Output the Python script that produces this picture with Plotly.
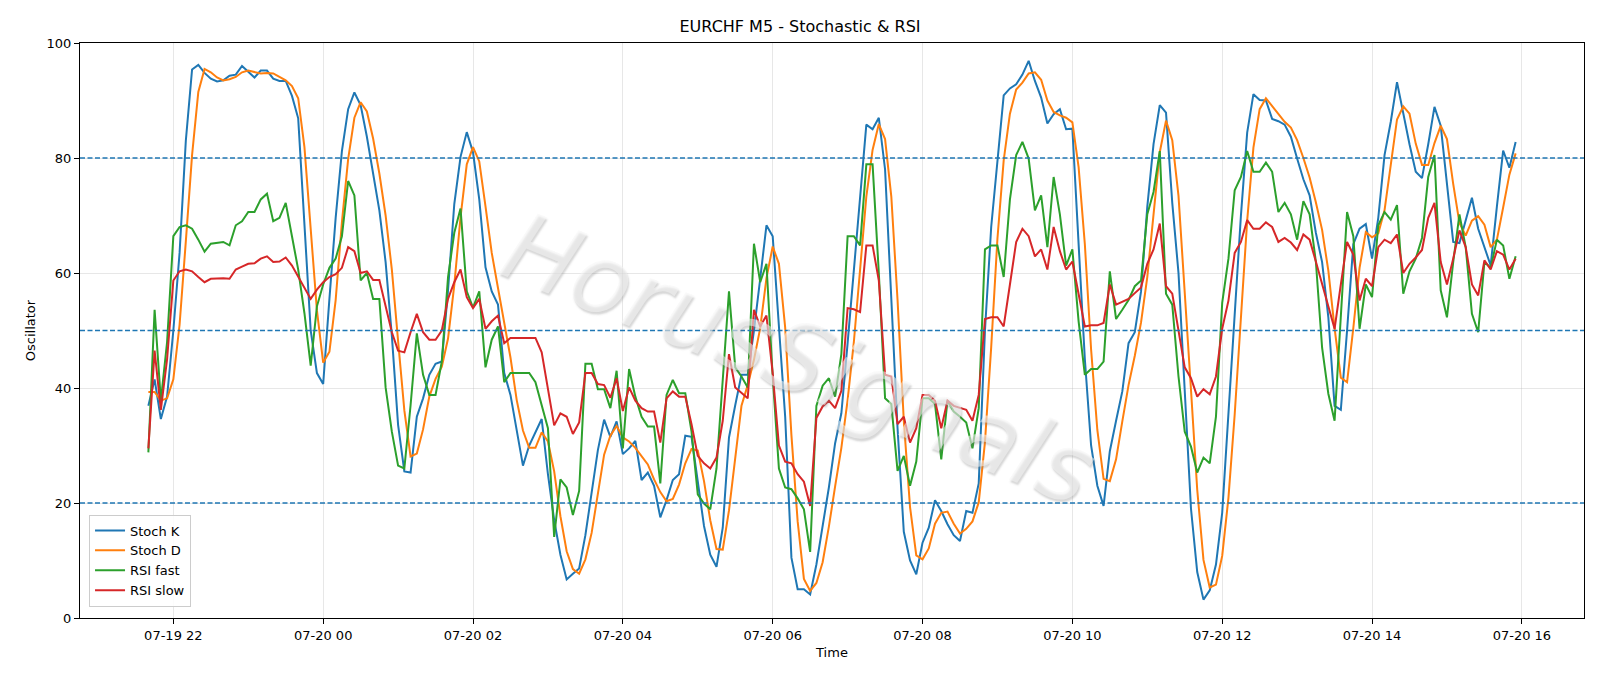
import plotly.graph_objects as go
import pandas as pd

start_time = "2024-07-19 21:40"
bar_freq = "5min"

stoch_k = [
    36.9, 41.5, 34.6, 38.5, 50, 63.5, 83, 95.4, 96.2, 94.8, 93.8, 93.3, 93.5, 94.3, 94.5, 96, 95, 94, 95.2, 95.2,
    93.8, 93.4, 93.4, 90.8, 86.9, 68, 50, 42.6, 40.7, 55.5, 69.6, 81.2, 88.5, 91.4, 89.2, 83.7, 77.3, 70.9, 61.9, 49.1, 33.6,
    25.5, 25.3, 35, 38.2, 42.3, 44.2, 44.6, 57, 72, 80.2, 84.5, 81, 72.8, 61, 56.8, 54.5, 42.6, 38.8, 32.4, 26.5, 30.0,
    32.4, 34.6, 25, 17, 11, 6.7, 7.7, 8.6, 14.4, 21.5, 29.2, 34.5, 31.5, 34.2, 28.5, 29.5, 30.8, 24, 25.3, 23,
    17.5, 20.5, 24, 25, 31.7, 31.5, 24, 16, 11, 8.9, 15.7, 31.4, 37, 42.3, 42.3, 50, 59, 68.3, 66.4, 50, 35, 10.5,
    5, 5, 4.1, 9.3, 15.7, 22.7, 30.4, 35.6, 47.8, 60.6, 73.5, 85.8, 85, 87, 78, 55, 33, 15, 10, 7.6,
    13.1, 15.7, 20.5, 18.6, 16.3, 14.4, 13.4, 18.6, 18.3, 23.4, 50, 68, 80, 90.9, 92.1, 92.8, 94.5, 96.9, 93.4, 90.5, 86.0,
    87.6, 88.5, 85.0, 85.1, 65, 45, 30, 23, 19.5, 29, 34.3, 39.4, 47.8, 49.7, 56.8, 71.5, 82.4, 89.2, 87.9, 72.2, 60,
    40, 19, 8, 3.2, 4.8, 9.3, 18.3, 35, 53, 70, 84.4, 91.1, 90.1, 90, 86.8, 86.4, 85.8, 83.7, 79.9, 76.3, 73.5,
    67, 61.9, 52.3, 36.9, 36.2, 50, 65, 67.7, 68.5, 62.5, 69.6, 80.5, 86.3, 93.2, 87.6, 82.4, 77.6, 76.5, 82.4, 88.9, 85.6,
    75.4, 65.4, 65.2, 69, 73.1, 67.7, 64.5, 61.3, 71.6, 81.3, 78.3, 82.8,
]

stoch_d = [
    39.3, 39.3, 37.8, 38.2, 41.5, 51, 65.5, 80.5, 91.5, 95.5, 94.9, 94, 93.5, 93.7, 94.1, 94.9, 95.2, 95, 94.7, 94.8,
    94.7, 94.1, 93.5, 92.5, 90.4, 81.9, 68.3, 53.5, 44.4, 46.3, 55.3, 68.8, 79.8, 87, 89.7, 88.1, 83.4, 77.3, 70, 60.6, 48.2,
    36.1, 28.1, 28.6, 32.8, 38.5, 41.6, 43.7, 48.6, 57.9, 69.7, 78.9, 81.9, 79.4, 71.6, 63.5, 57.4, 51.3, 45.3, 37.9, 32.6, 29.6,
    29.6, 32.3, 30.7, 25.5, 17.7, 11.6, 8.5, 7.7, 10.2, 14.8, 21.7, 28.4, 31.7, 33.4, 31.4, 30.7, 29.6, 28.1, 26.7, 24.1,
    21.9, 20.3, 20.7, 23.2, 26.9, 29.4, 29.1, 23.8, 17, 12, 11.9, 18.7, 28, 36.9, 40.5, 44.9, 50.4, 59.1, 64.6, 61.6, 50.5, 31.8,
    16.8, 6.8, 4.7, 6.1, 9.7, 15.9, 22.9, 29.6, 37.9, 48, 60.6, 73.3, 81.4, 85.9, 83.3, 73.3, 55.3, 34.3, 19.3, 10.9,
    10.2, 12.1, 16.4, 18.3, 18.5, 16.4, 14.7, 15.5, 16.8, 20.1, 30.6, 47.1, 66, 79.6, 87.7, 91.9, 93.1, 94.7, 94.9, 93.6, 90,
    88, 87.4, 87, 86.2, 78.4, 65, 46.7, 32.7, 24.2, 23.8, 27.6, 34.2, 40.5, 45.6, 51.4, 59.3, 70.2, 81, 86.5, 83.1, 73.4,
    57.4, 39.7, 22.3, 10.1, 5.3, 5.8, 10.8, 20.9, 35.4, 52.7, 69.1, 81.8, 88.5, 90.4, 89, 87.7, 86.3, 85.3, 83.1, 80, 76.6,
    72.3, 67.5, 60.4, 50.4, 41.8, 41, 50.4, 60.9, 67.1, 66.2, 66.9, 70.9, 78.8, 86.7, 89, 87.7, 82.5, 78.8, 78.8, 82.6, 85.6,
    83.3, 75.5, 68.7, 66.5, 69.1, 69.9, 68.4, 64.5, 65.8, 71.4, 77.1, 80.8,
]

rsi_fast = [
    28.8, 53.6, 37.8, 48, 66.4, 68.0, 68.3, 67.7, 65.8, 63.7, 65.1, 65.2, 65.4, 64.8, 68.3, 69.0, 70.6, 70.6, 72.8, 73.8,
    69.0, 69.6, 72.2, 66.4, 60.6, 53, 43.9, 54.2, 58.0, 60.9, 62.5, 66.4, 76.0, 73.5, 58.7, 60.0, 55.5, 55.5, 40.1, 32.4, 26.5,
    26, 37, 49.5, 42.3, 38.8, 38.8, 44.6, 59.3, 67, 71.2, 56.8, 54.0, 56.8, 43.6, 48.4, 50.7, 41, 42.6, 42.6, 42.6, 42.6,
    41, 37, 33, 14.1, 24.1, 22.7, 17.9, 22.1, 44.2, 44.2, 39.8, 39.8, 36.5, 43, 29.5, 43.3, 38.5, 35, 33.3, 33.3,
    23.4, 38.8, 41.4, 39.1, 39.1, 32.4, 21.5, 19.9, 18.9, 26, 40.7, 56.8, 43.6, 42, 40.1, 65.1, 58.4, 61.6, 42, 26, 22.7, 22.4,
    20.8, 18.9, 11.5, 36.9, 40.4, 41.7, 38.5, 45.9, 66.4, 66.4, 64.8, 78.9, 78.9, 60, 38.2, 37.2, 25.6, 28.2, 23, 27.2,
    38.2, 38.2, 37.2, 27.6, 37.8, 35.9, 35.0, 34.0, 29.5, 36.5, 64.1, 64.8, 64.8, 59.3, 72.8, 80.5, 82.8, 79.9, 70.9, 73.5, 64.5,
    76.7, 70.2, 61.3, 64.1, 51.6, 42.3, 43.3, 43.3, 44.6, 60.3, 52, 53.6, 55.3, 57.7, 58.7, 70.2, 74.1, 81.2, 56.4, 54.5, 42,
    32.4, 29.8, 25.3, 27.9, 26.9, 35, 54.8, 62.5, 74.4, 76.7, 81.2, 77.6, 77.6, 79.2, 77.6, 70.6, 72.2, 70.2, 65.8, 72.5, 70.2,
    62, 47, 39, 34.3, 52, 70.6, 66.4, 50.3, 58.0, 55.8, 68.3, 70.6, 69.3, 71.8, 56.4, 60.3, 62.5, 66.1, 76.7, 80.5, 57,
    52.3, 61.9, 70.2, 64.5, 52.9, 49.7, 61.9, 60.9, 65.8, 64.8, 59.0, 62.9,
]

rsi_slow = [
    29.5, 46.5, 36.2, 45, 58.7, 60.3, 60.6, 60.3, 59.3, 58.4, 59.0, 59.1, 59.1, 59.0, 60.6, 61.1, 61.6, 61.7, 62.5, 62.9,
    61.9, 62.0, 62.7, 61.3, 59.3, 57.4, 55.5, 57.1, 58.4, 59.3, 59.8, 60.9, 64.5, 63.8, 60.0, 60.3, 58.8, 58.8, 54.2, 49.7, 46.5,
    46.2, 49.7, 52.9, 49.7, 48.4, 48.4, 50.0, 55.5, 58.4, 60.6, 55.8, 53.9, 55.5, 50.3, 51.6, 52.6, 47.8, 48.7, 48.7, 48.7, 48.7,
    48.7, 46.2, 40.1, 33.5, 35.6, 35.0, 32, 34, 42.6, 42.6, 40.7, 40.5, 38.3, 41.7, 36.0, 40.1, 37.8, 36.5, 35.9, 35.9,
    30.5, 38.2, 39.4, 38.5, 38.5, 33.7, 28.2, 26.9, 26, 27.9, 34.3, 45.9, 40.1, 39.1, 38.2, 53.6, 50.7, 52.6, 42.6, 30, 27.2, 26.9,
    25, 23.7, 19.5, 34.8, 36.8, 37.8, 36.5, 39.5, 53.9, 53.7, 53.2, 64.8, 64.8, 58.7, 42.3, 42.0, 33.7, 35.0, 30.5, 33.0,
    38.8, 38.8, 37.8, 33.0, 37.8, 36.9, 36.5, 36.2, 34.3, 38.8, 52.0, 52.3, 52.3, 50.7, 58.0, 65.4, 67.7, 66.4, 62.9, 64.1, 60.6,
    68.0, 63.8, 60.6, 62.0, 56.0, 50.7, 50.9, 50.9, 51.3, 58.0, 54.5, 55.0, 55.5, 56.5, 57.5, 61.6, 64.1, 68.6, 57.7, 56.4, 50,
    43.6, 41.7, 38.5, 39.8, 38.9, 42.0, 50.3, 55.2, 63.5, 65.4, 69.2, 67.7, 67.7, 68.8, 68.0, 65.4, 66.1, 65.3, 64.0, 66.7, 65.8,
    62, 58, 53.9, 50.3, 58, 65.4, 63.2, 55.2, 59.0, 57.7, 64.5, 65.8, 65.2, 66.7, 60.0, 61.6, 62.7, 64.0, 69.6, 72.2, 61.9,
    58, 62.5, 67.4, 64.5, 58, 56.1, 62.2, 60.6, 63.8, 63.2, 60.6, 62.5,
]

series_names = ["Stoch K", "Stoch D", "RSI fast", "RSI slow"]
series_colors = ["#1f77b4", "#ff7f0e", "#2ca02c", "#d62728"]
level_lines = [20, 50, 80]
y_ticks = [0, 20, 40, 60, 80, 100]

fig = go.Figure()
for name, vals, col in zip(series_names, [stoch_k, stoch_d, rsi_fast, rsi_slow], series_colors):
    t = pd.date_range(start_time, periods=len(vals), freq=bar_freq)
    fig.add_trace(go.Scatter(x=t, y=vals, mode="lines", name=name,
                             line=dict(color=col, width=2)))

for lv in level_lines:
    fig.add_hline(y=lv, line=dict(color="#1f77b4", width=1.3, dash="5px,2.5px"), layer="above")

n = len(stoch_k)
t0 = pd.Timestamp(start_time)
span = pd.Timedelta(bar_freq) * (n - 1)
pad = span * 0.05
x_range = [t0 - pad, t0 + span + pad]

fig.add_annotation(text="HorusSignals", xref="paper", yref="paper", x=0.478, y=0.45,
                   showarrow=False, textangle=22,
                   font=dict(family="DejaVu Sans", size=96, color="rgba(245,245,245,0.55)", style="italic",
                             shadow="2px 2px 2px rgba(120,120,120,0.55)"))

fig.update_layout(
    width=1600, height=686,
    margin=dict(l=80, r=16, t=43, b=68),
    paper_bgcolor="white", plot_bgcolor="white",
    font=dict(family="DejaVu Sans", size=13, color="black"),
    title=dict(text="EURCHF M5 - Stochastic & RSI", x=0.5, xanchor="center", y=0.962, yanchor="middle",
               font=dict(size=16)),
    legend=dict(x=0.006, y=0.02, xanchor="left", yanchor="bottom", bgcolor="rgba(255,255,255,0.85)",
                bordercolor="#cccccc", borderwidth=1, font=dict(size=13), tracegroupgap=0),
    showlegend=True,
)
fig.update_xaxes(
    type="date", range=x_range, tick0="2024-07-19 22:00", dtick=2 * 3600 * 1000,
    tickformat="%m-%d %H", showgrid=True, gridcolor="rgba(176,176,176,0.3)", gridwidth=1,
    showline=True, mirror=True, linecolor="black", linewidth=1, ticks="outside", ticklen=5,
    tickcolor="black", title=dict(text="Time", standoff=6, font=dict(size=13)), zeroline=False,
)
fig.update_yaxes(
    range=[0, 100], tickvals=y_ticks, showgrid=True, gridcolor="rgba(176,176,176,0.3)", gridwidth=1,
    showline=True, mirror=True, linecolor="black", linewidth=1, ticks="outside", ticklen=5,
    tickcolor="black", title=dict(text="Oscillator", standoff=8, font=dict(size=13)), zeroline=False,
)

fig.write_html("out.html")
